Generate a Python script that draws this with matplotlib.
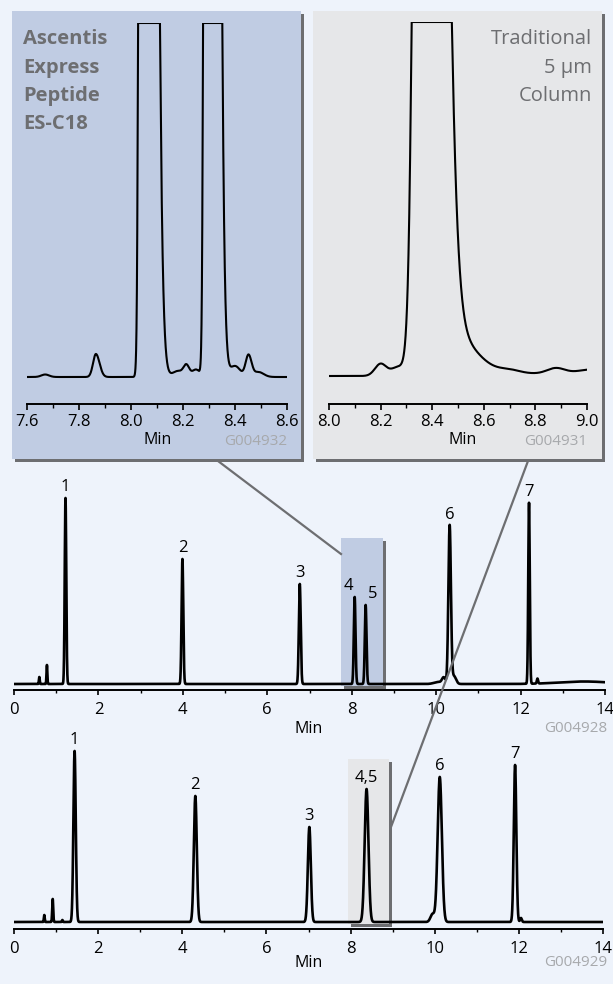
import numpy as np
import matplotlib
matplotlib.use("Agg")
import matplotlib.pyplot as plt
from matplotlib.patches import Rectangle
from matplotlib.lines import Line2D
from matplotlib import transforms

plt.rcParams['font.family'] = ['Open Sans', 'DejaVu Sans']

# ---------------- data ----------------
# Ascentis Express Peptide ES-C18 chromatogram (top trace)
peak_labels_A = ["1", "2", "3", "4", "5", "6", "7"]
rt_A = [1.22, 3.99, 6.77, 8.07, 8.33, 10.32, 12.20]
height_A = [186, 125, 100, 87, 79, 158, 181]
sigma_A = [0.018, 0.020, 0.022, 0.020, 0.020, 0.030, 0.018]
minor_rt_A = [0.60, 0.78, 10.18, 10.42, 12.40, 10.05, 13.5]
minor_h_A = [7, 19, 6, 8, 5, 2, 2.5]
minor_sigma_A = [0.010, 0.010, 0.040, 0.050, 0.015, 0.10, 0.6]

# Traditional 5 um column chromatogram (bottom trace)
peak_labels_B = ["1", "2", "3", "4,5", "6", "7"]
rt_B = [1.44, 4.31, 7.02, 8.38, 10.12, 11.91]
height_B = [171, 126, 95, 133, 145, 157]
sigma_B = [0.028, 0.035, 0.035, 0.045, 0.050, 0.030]
minor_rt_B = [0.72, 0.92, 9.95, 12.05, 1.15]
minor_h_B = [7, 23, 8, 4, 2]
minor_sigma_B = [0.010, 0.012, 0.050, 0.020, 0.010]

# Zoomed insets: (centre, height, sigma_left, sigma_right)
inset_A_center = [7.67, 7.865, 8.047, 8.18, 8.213, 8.25, 8.297, 8.40, 8.452, 8.49]
inset_A_height = [2.5, 23, 8000, 6, 11, 7.5, 8000, 11, 22, 5]
inset_A_sl = [0.015, 0.011, 0.0081, 0.02, 0.011, 0.015, 0.0081, 0.02, 0.011, 0.015]
inset_A_sr = [0.015, 0.014, 0.0258, 0.02, 0.011, 0.015, 0.0217, 0.02, 0.012, 0.02]

inset_B_center = [8.20, 8.265, 8.372, 8.48, 8.70, 8.75, 8.88, 9.02]
inset_B_height = [12, 7, 3000, 40, 3, 2.5, 6, 6]
inset_B_sl = [0.022, 0.025, 0.025, 0.087, 0.04, 0.15, 0.035, 0.06]
inset_B_sr = [0.022, 0.025, 0.049, 0.087, 0.04, 0.15, 0.035, 0.06]

main_ticks = [0, 2, 4, 6, 8, 10, 12, 14]
inset_A_ticks = [7.6, 7.8, 8.0, 8.2, 8.4, 8.6]
inset_B_ticks = [8.0, 8.2, 8.4, 8.6, 8.8, 9.0]

# ---------------- helpers ----------------
def bigauss(t, c, h, sl, sr):
    s = np.where(t < c, sl, sr)
    return h * np.exp(-0.5 * ((t - c) / s) ** 2)

def trace(t, centers, heights, sls, srs):
    y = np.zeros_like(t)
    for c, h, a, b in zip(centers, heights, sls, srs):
        y += bigauss(t, c, h, a, b)
    return y

W, H = 613, 984
BG = '#EEF3FB'
BLUE = '#C0CCE3'
GREY = '#E6E7E9'
SHADOW = '#6D6E71'
LABEL = '#6D6E71'
CODE = '#A7A9AC'

def frect(x0, y0, x1, y1):
    return [x0 / W, 1 - y1 / H, (x1 - x0) / W, (y1 - y0) / H]

def fx(x):
    return x / W

def fy(y):
    return 1 - y / H

fig = plt.figure(figsize=(W / 100, H / 100), dpi=100, facecolor=BG)

# ---------------- panels ----------------
for (x0, y0, x1, y1), col in [((12, 11, 301, 459), BLUE), ((313, 11, 602, 459), GREY)]:
    sh = Rectangle((fx(x0 + 3), fy(y1 + 3)), (x1 - x0) / W, (y1 - y0) / H,
                   transform=fig.transFigure, facecolor=SHADOW, edgecolor='none', zorder=-3)
    pn = Rectangle((fx(x0), fy(y1)), (x1 - x0) / W, (y1 - y0) / H,
                   transform=fig.transFigure, facecolor=col, edgecolor='none', zorder=-2)
    fig.add_artist(sh)
    fig.add_artist(pn)

def style_axis(ax, major, minor, labels, maj_len, min_len, fs, pad):
    ax.set_facecolor('none')
    for s in ['top', 'right', 'left']:
        ax.spines[s].set_visible(False)
    ax.spines['bottom'].set_linewidth(1.4)
    ax.set_yticks([])
    ax.set_xticks(major)
    ax.set_xticklabels(labels)
    ax.set_xticks(minor, minor=True)
    ax.tick_params(axis='x', which='major', length=maj_len, width=1.2, direction='out',
                   pad=pad, labelsize=fs, colors='black')
    ax.tick_params(axis='x', which='minor', length=min_len, width=1.0, direction='out')

# ---------------- inset A ----------------
axA = fig.add_axes(frect(27, 23, 287, 404))
tA = np.linspace(7.6, 8.6, 4000)
yA = np.minimum(trace(tA, inset_A_center, inset_A_height, inset_A_sl, inset_A_sr), 354)
axA.plot(tA, yA, color='black', lw=1.5, solid_joinstyle='miter')
axA.set_xlim(7.6, 8.6)
axA.set_ylim(-27, 354)
style_axis(axA, inset_A_ticks, [7.7, 7.9, 8.1, 8.3, 8.5],
           [f"{v:.1f}" for v in inset_A_ticks], 4.5, 3, 12, 2.5)
fig.text(fx(158), fy(440), "Min", ha='center', va='center', fontsize=11.5)
fig.text(fx(287), fy(441), "G004932", ha='right', va='center', fontsize=11, color=CODE)

# ---------------- inset B ----------------
axB = fig.add_axes(frect(329, 22, 587, 404))
tB = np.linspace(8.0, 9.0, 4000)
yB = np.minimum(trace(tB, inset_B_center, inset_B_height, inset_B_sl, inset_B_sr), 354)
axB.plot(tB, yB, color='black', lw=1.5, solid_joinstyle='miter')
axB.set_xlim(8.0, 9.0)
axB.set_ylim(-28, 354)
style_axis(axB, inset_B_ticks, [8.1, 8.3, 8.5, 8.7, 8.9],
           [f"{v:.1f}" for v in inset_B_ticks], 4.5, 3, 12, 2.5)
fig.text(fx(463), fy(440), "Min", ha='center', va='center', fontsize=11.5)
fig.text(fx(587), fy(441), "G004931", ha='right', va='center', fontsize=11, color=CODE)

# panel titles
for i, s in enumerate(["Ascentis", "Express", "Peptide", "ES-C18"]):
    fig.text(fx(23), fy(44.5 + 28.2 * i), s, ha='left', va='baseline', fontsize=14.5,
             fontweight='bold', color=LABEL)
for i, s in enumerate(["Traditional", "5 µm", "Column"]):
    fig.text(fx(592), fy(44.5 + 28.2 * i), s, ha='right', va='baseline', fontsize=14.5,
             color=LABEL)

# ---------------- main chromatograms ----------------
def chrom(rect, ylim, rts, hs, sg, mrt, mh, ms, labels, label_dx, box, box_col):
    ax = fig.add_axes(frect(*rect))
    t = np.linspace(0, 14, 14001)
    y = trace(t, rts + mrt, hs + mh, sg + ms, sg + ms)
    ax.plot(t, y, color='black', lw=1.9, zorder=3)
    ax.set_xlim(0, 14)
    ax.set_ylim(*ylim)
    style_axis(ax, main_ticks, [1, 3, 5, 7, 9, 11, 13], [str(v) for v in main_ticks],
               3.8, 2.2, 12, 4.5)
    for lab, r, h, dx in zip(labels, rts, hs, label_dx):
        ax.annotate(lab, (r, h), xytext=(dx, 3), textcoords='offset pixels',
                    ha='center', va='bottom', fontsize=12, zorder=4)
    bx0, bx1, by0, by1 = box
    off = transforms.offset_copy(ax.transData, fig=fig, x=3, y=-3, units='dots')
    ax.add_patch(Rectangle((bx0, by0), bx1 - bx0, by1 - by0, transform=off,
                           facecolor=SHADOW, edgecolor='none', zorder=1))
    ax.add_patch(Rectangle((bx0, by0), bx1 - bx0, by1 - by0,
                           facecolor=box_col, edgecolor='none', zorder=2))
    return ax

axM = chrom((14, 470, 605, 690), (-6, 214), rt_A, height_A, sigma_A,
            minor_rt_A, minor_h_A, minor_sigma_A, peak_labels_A,
            [0, 0, 0, -6, 7, 0, 0], (7.74, 8.73, -2, 146), BLUE)
fig.text(fx(309), fy(729), "Min", ha='center', va='center', fontsize=11.5)
fig.text(fx(607), fy(729), "G004928", ha='right', va='center', fontsize=11, color=CODE)

axL = chrom((14, 735, 603, 929), (-7, 187), rt_B, height_B, sigma_B,
            minor_rt_B, minor_h_B, minor_sigma_B, peak_labels_B,
            [0, 0, 0, 0, 0, 0], (7.94, 8.91, -2, 163), GREY)
fig.text(fx(309), fy(963), "Min", ha='center', va='center', fontsize=11.5)
fig.text(fx(607), fy(963), "G004929", ha='right', va='center', fontsize=11, color=CODE)

# ---------------- connector lines ----------------
for (x0, y0), (x1, y1) in [((218, 461), (341, 554)), ((528, 461), (391, 827))]:
    fig.add_artist(Line2D([fx(x0), fx(x1)], [fy(y0), fy(y1)], transform=fig.transFigure,
                          color=SHADOW, lw=1.6, zorder=5))

fig.savefig("out.png", dpi=100, facecolor=BG)
